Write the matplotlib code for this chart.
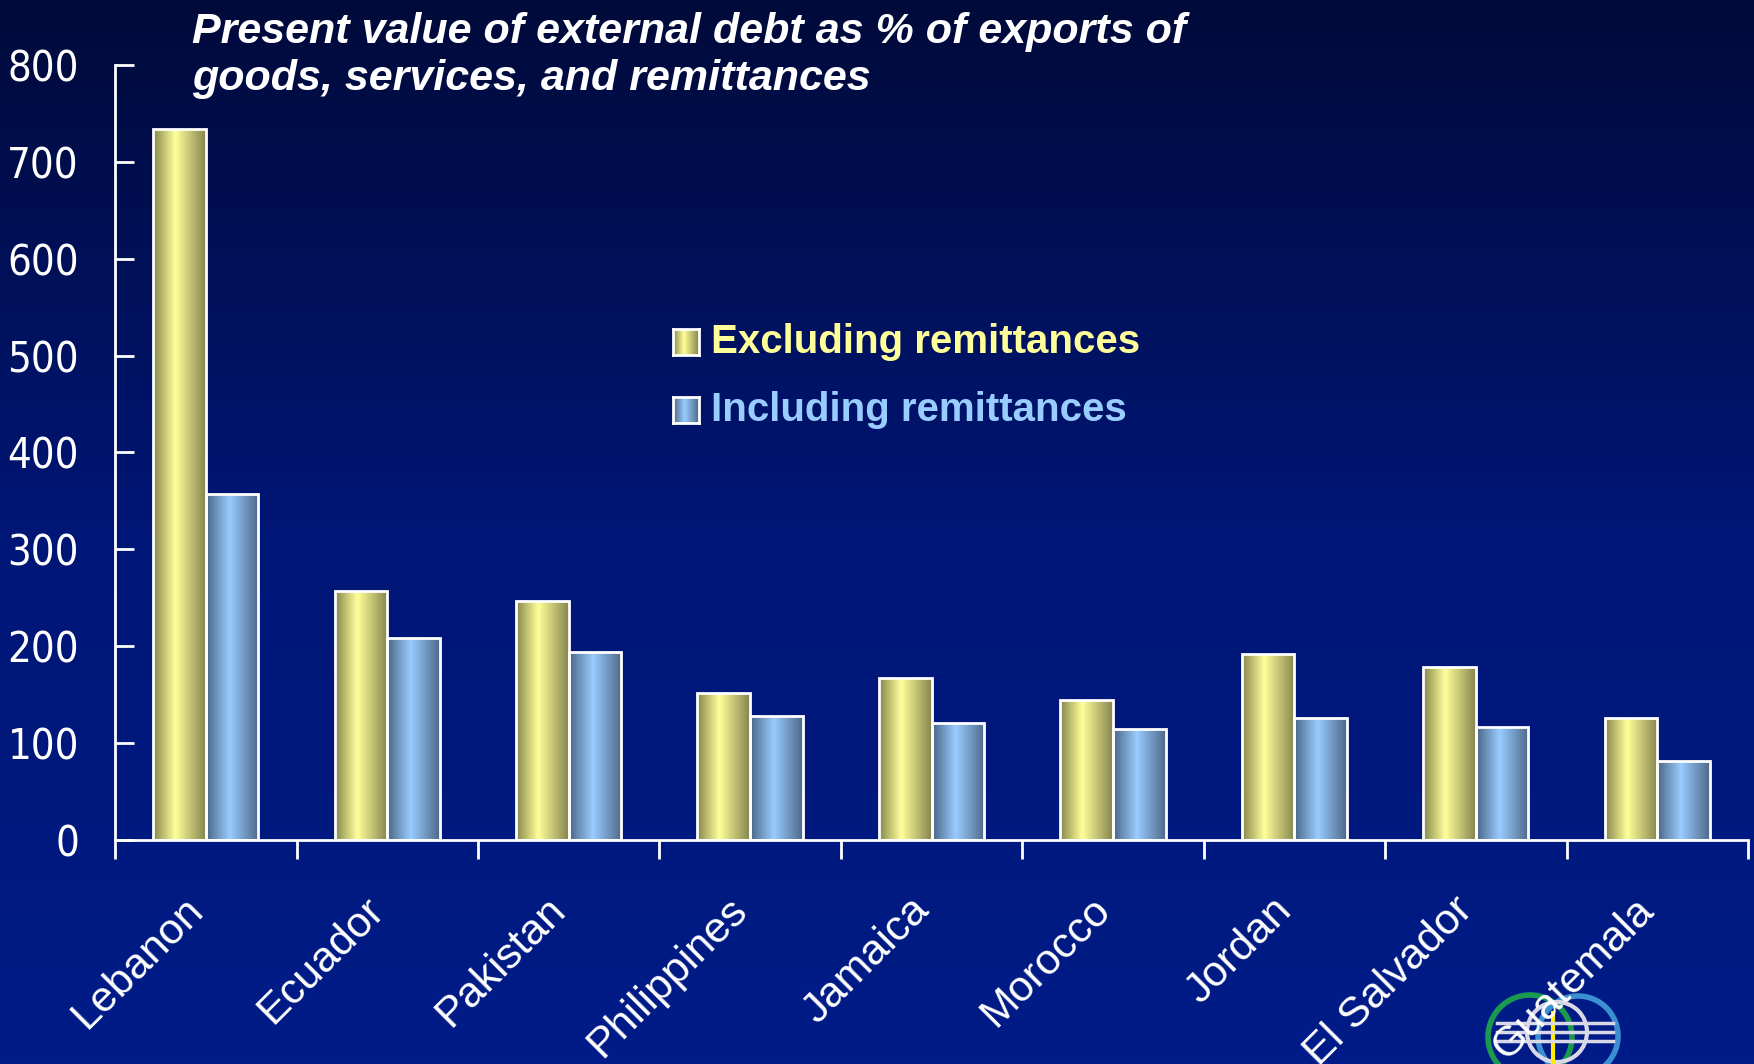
import numpy as np
import matplotlib.pyplot as plt
from matplotlib import font_manager
from matplotlib.font_manager import FontProperties
from matplotlib.colors import LinearSegmentedColormap
from matplotlib.patches import Circle
from matplotlib.transforms import ScaledTranslation

countries = ['Lebanon', 'Ecuador', 'Pakistan', 'Philippines', 'Jamaica',
             'Morocco', 'Jordan', 'El Salvador', 'Guatemala']
excluding = [734, 257, 247, 152, 167, 145, 192, 179, 126]
including = [357, 209, 194, 128, 121, 115, 126, 117, 82]
yticks = [0, 100, 200, 300, 400, 500, 600, 700, 800]

plt.rcParams['font.family'] = ['Liberation Sans', 'DejaVu Sans']

# look for a narrow font for the y tick labels
narrow = None
for f in font_manager.fontManager.ttflist:
    if f.name in ('Liberation Sans Narrow', 'Arial Narrow') and f.weight in (400, 'normal') and f.style == 'normal':
        narrow = f.fname
        break
if narrow is None:
    for f in font_manager.fontManager.ttflist:
        if f.name in ('Roboto Condensed', 'DejaVu Sans Condensed', 'Open Sans Condensed') or \
                (f.name == 'DejaVu Sans' and 'Condensed' in f.fname):
            if 'Bold' not in f.fname and 'Italic' not in f.fname and 'Oblique' not in f.fname \
                    and 'Light' not in f.fname:
                narrow = f.fname
                break
if narrow is not None:
    tick_font = FontProperties(fname=narrow, size=30)
else:
    tick_font = FontProperties(family='Liberation Sans', size=28)

yellow_cmap = LinearSegmentedColormap.from_list(
    'yel', [(0, '#85854d'), (0.42, '#ffff99'), (1, '#85854f')])
blue_cmap = LinearSegmentedColormap.from_list(
    'blu', [(0, '#4a6585'), (0.45, '#99ccff'), (1, '#4d6888')])
bg_cmap = LinearSegmentedColormap.from_list('bg', ['#001c88', '#001676', '#000a3a'])

fig = plt.figure(figsize=(17.54, 10.64), dpi=100)

# background gradient, dark at the top
bg = fig.add_axes([0, 0, 1, 1], zorder=-10)
bg.imshow(np.linspace(0, 1, 256).reshape(-1, 1), aspect='auto', cmap=bg_cmap,
          extent=[0, 1, 0, 1], origin='lower')
bg.axis('off')

ax = fig.add_axes([0.0656, 0.2105, 0.931, 0.7285])
ax.set_facecolor('none')

x = np.arange(len(countries))
w = 0.29
grad = np.linspace(0, 1, 256).reshape(1, -1)
bars1 = ax.bar(x - w / 2, excluding, w, facecolor='none', edgecolor='white', linewidth=2, zorder=3)
bars2 = ax.bar(x + w / 2, including, w, facecolor='none', edgecolor='white', linewidth=2, zorder=3)
for bars, cmap in [(bars1, yellow_cmap), (bars2, blue_cmap)]:
    for b in bars:
        x0, h = b.get_x(), b.get_height()
        im = ax.imshow(grad, cmap=cmap, aspect='auto', interpolation='bilinear',
                       extent=[x0, x0 + b.get_width(), 0, h], zorder=2)
        im.set_clip_path(b)

ax.set_xlim(-0.5, len(countries) - 0.5)
ax.set_ylim(0, 800)
ax.set_yticks(yticks)
ax.set_yticklabels([str(v) for v in yticks], color='white', fontproperties=tick_font)
ax.tick_params(axis='y', direction='in', length=14, width=2, color='white', pad=26)

ax.set_xticks(np.arange(len(countries) + 1) - 0.5)
ax.set_xticklabels([])
ax.tick_params(axis='x', direction='out', length=14, width=2, color='white')
ax.set_xticks(x, minor=True)
ax.set_xticklabels(countries, minor=True, rotation=45, ha='right', va='center',
                   rotation_mode='anchor', fontsize=31, color='white')
ax.tick_params(axis='x', which='minor', length=0, pad=46)
shift = ScaledTranslation(-0.09, 0, fig.dpi_scale_trans)
for lbl in ax.get_xticklabels(minor=True):
    lbl.set_transform(lbl.get_transform() + shift)

for s in ['top', 'right']:
    ax.spines[s].set_visible(False)
for s in ['left', 'bottom']:
    ax.spines[s].set_color('white')
    ax.spines[s].set_linewidth(2)

fig.text(0.1095, 0.989, 'Present value of external debt as % of exports of\ngoods, services, and remittances',
         fontsize=31, fontweight='bold', fontstyle='italic', color='white', va='top', ha='left',
         linespacing=1.24)

# legend
for i, (label, cmap, col) in enumerate([('Excluding remittances', yellow_cmap, '#ffff99'),
                                        ('Including remittances', blue_cmap, '#99ccff')]):
    yc = 1 - (342 + 68 * i) / 1064
    sw = fig.add_axes([673 / 1754, yc - 13 / 1064, 26 / 1754, 26 / 1064])
    sw.imshow(grad, cmap=cmap, aspect='auto', interpolation='bilinear')
    sw.set_xticks([])
    sw.set_yticks([])
    for sp in sw.spines.values():
        sp.set_color('white')
        sp.set_linewidth(2)
    fig.text(711 / 1754, yc, label, fontsize=29, fontweight='bold', color=col, va='center', ha='left')

# logo in the corner
lg = fig.add_axes([1480 / 1754, 0, 150 / 1754, 80 / 1064], zorder=-5)
lg.set_xlim(1480, 1630)
lg.set_ylim(1064, 984)
lg.axis('off')
lg.add_patch(Circle((1530, 1037), 42, fill=False, ec='#1a9a50', lw=4))
lg.add_patch(Circle((1578, 1036), 40, fill=False, ec='#3a90d0', lw=4))
lg.add_patch(Circle((1557, 1032), 30, fill=False, ec='#d8d8e8', lw=3))
lg.plot([1553, 1553], [1013, 1064], color='#ffee00', lw=3)
for yy in [1023, 1032, 1041]:
    lg.plot([1497, 1613], [yy, yy], color='#d8d8e8', lw=2.5)

fig.savefig('out.png', dpi=100)
